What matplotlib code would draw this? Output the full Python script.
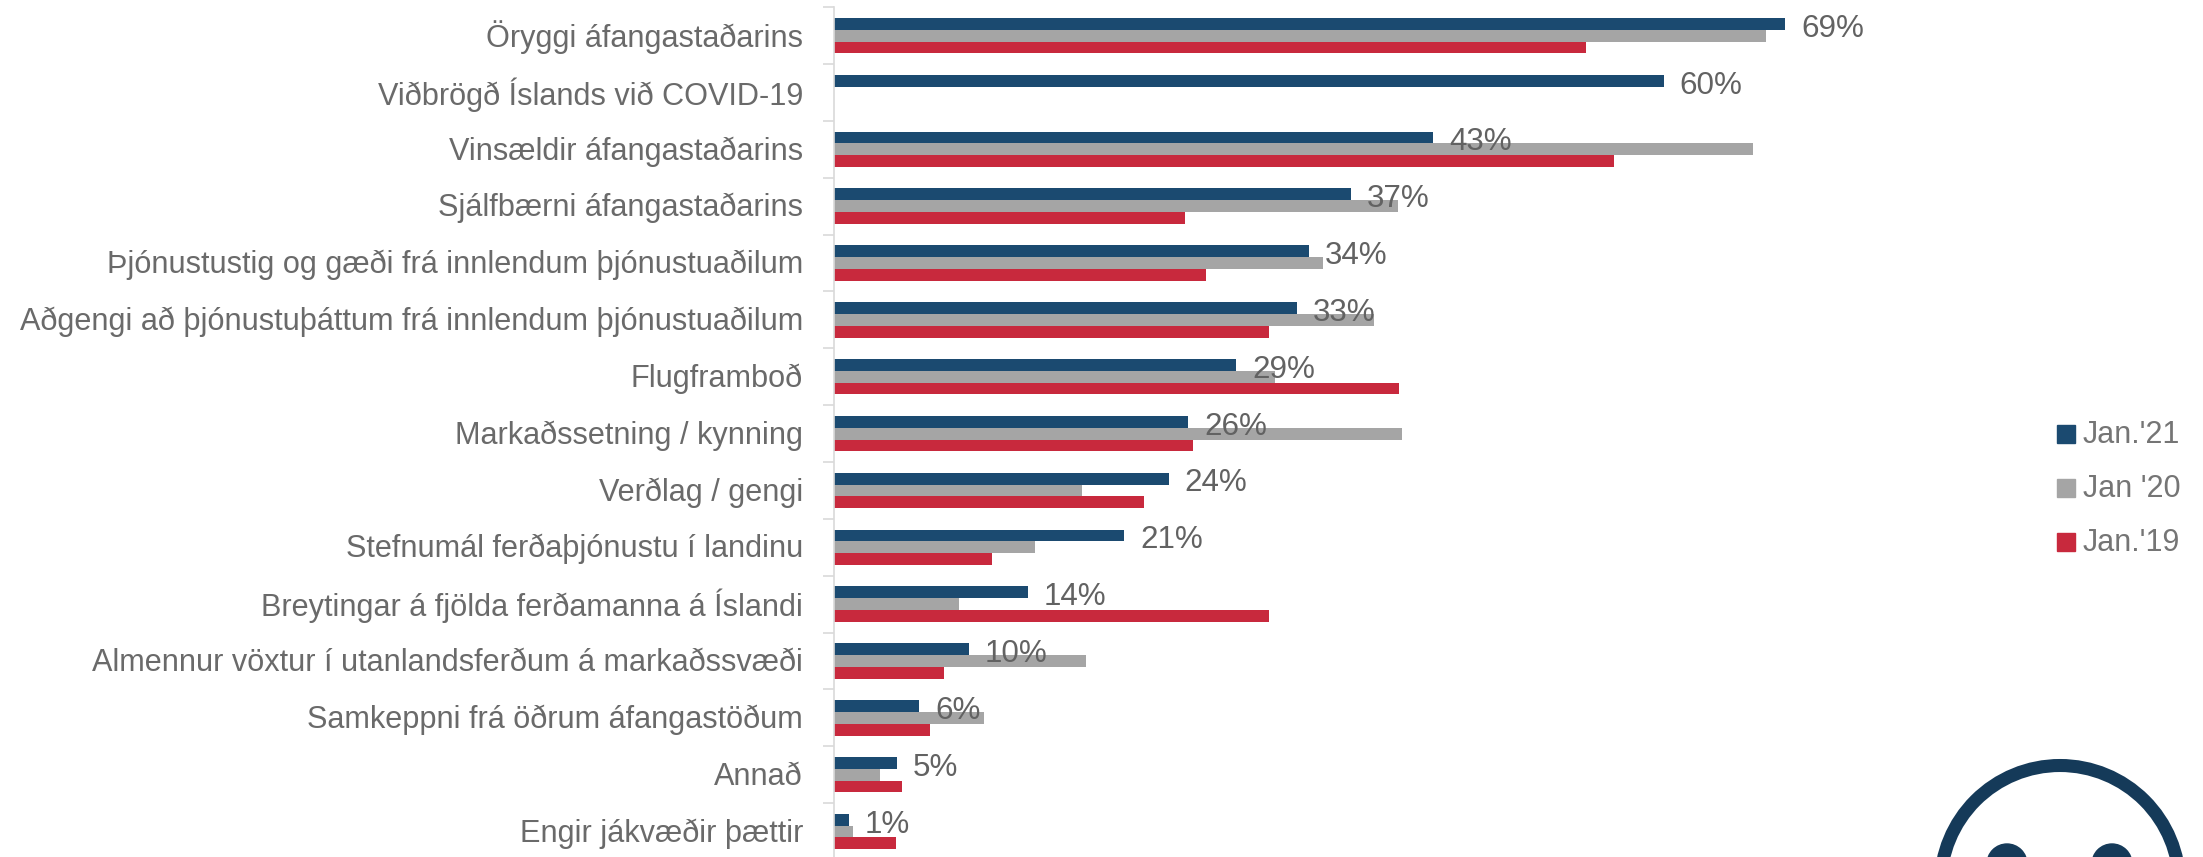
import matplotlib
matplotlib.use("Agg")
import matplotlib.pyplot as plt
import numpy as np
from matplotlib.patches import Circle

plt.rcParams['font.family'] = ['Liberation Sans', 'DejaVu Sans']

W, H = 2203, 857

categories = ["Öryggi áfangastaðarins", "Viðbrögð Íslands við COVID-19", "Vinsældir áfangastaðarins",
              "Sjálfbærni áfangastaðarins", "Þjónustustig og gæði frá innlendum þjónustuaðilum",
              "Aðgengi að þjónustuþáttum frá innlendum þjónustuaðilum", "Flugframboð",
              "Markaðssetning / kynning", "Verðlag / gengi", "Stefnumál ferðaþjónustu í landinu",
              "Breytingar á fjölda ferðamanna á Íslandi", "Almennur vöxtur í utanlandsferðum á markaðssvæði",
              "Samkeppni frá öðrum áfangastöðum", "Annað", "Engir jákvæðir þættir"]
jan21 = [69, 60.2, 43.5, 37.5, 34.5, 33.6, 29.2, 25.7, 24.3, 21.1, 14.1, 9.8, 6.2, 4.6, 1.1]
jan20 = [67.6, 0, 66.7, 40.9, 35.5, 39.2, 32, 41.2, 18, 14.6, 9.1, 18.3, 10.9, 3.4, 1.4]
jan19 = [54.6, 0, 56.6, 25.5, 27, 31.6, 41, 26.1, 22.5, 11.5, 31.6, 8, 7, 5, 4.5]
labels21 = ["69%", "60%", "43%", "37%", "34%", "33%", "29%", "26%", "24%", "21%", "14%", "10%", "6%", "5%", "1%"]

blue, gray, red = "#1b4a70", "#a5a5a5", "#c8293d"
txt = "#6a6a6a"
smiley = "#153a59"

fig = plt.figure(figsize=(W / 100, H / 100), dpi=100)
# plot area runs slightly past the bottom edge, like the source slide
top_px, bottom_px = 7.2, 860
x0, x1 = 833.5, 2100
ax = fig.add_axes([x0 / W, 1 - bottom_px / H, (x1 - x0) / W, (bottom_px - top_px) / H])

y = np.arange(len(categories))
h = 0.208
ax.barh(y - h, jan21, h, color=blue)
ax.barh(y, jan20, h, color=gray)
ax.barh(y + h, jan19, h, color=red)

ax.set_xlim(0, (x1 - x0) / 13.79)
ax.set_ylim(len(categories) - 0.5, -0.5)

for i, lab in enumerate(labels21):
    ax.annotate(lab, (jan21[i], y[i] - h), xytext=(11.5, -3.5), textcoords='offset points',
                va='center', ha='left', fontsize=22.6, color="#626262")

for s in ['top', 'right', 'bottom']:
    ax.spines[s].set_visible(False)
ax.spines['left'].set_color("#d9d9d9")
ax.spines['left'].set_linewidth(1.2)
ax.set_xticks([])
ax.set_yticks(np.arange(len(categories) + 1) - 0.5)
ax.set_yticklabels([])
ax.tick_params(axis='y', length=8, width=1.2, color="#d9d9d9")

for i, c in enumerate(categories):
    ax.annotate(c, (0, y[i]), xytext=(-22, -1.4), textcoords='offset points',
                va='center', ha='right', fontsize=22.05, color=txt)

# legend, drawn by hand to keep the spacing of the original
for name, col, py in zip(["Jan.'21", "Jan '20", "Jan.'19"], [blue, gray, red], [434, 488, 542]):
    fig.patches.append(plt.Rectangle((2057 / W, 1 - (py + 9) / H), 18 / W, 18 / H, color=col,
                                     transform=fig.transFigure))
    fig.text(2083 / W, 1 - (py + 1) / H, name, va='center', ha='left', fontsize=22, color="#757575")

# smiley in the bottom corner, cut by the edge
pic = fig.add_axes([0, 0, 1, 1], facecolor='none')
pic.set_xlim(0, W)
pic.set_ylim(H, 0)
pic.axis('off')
pic.add_patch(Circle((2060, 885), 119.5, fill=False, ec=smiley, lw=9.4))
pic.add_patch(Circle((2007, 864), 20, color=smiley))
pic.add_patch(Circle((2112, 864), 20, color=smiley))

fig.savefig("out.png", dpi=100)
